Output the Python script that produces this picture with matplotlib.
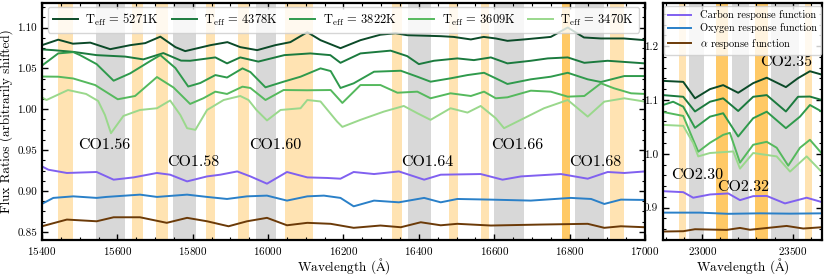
import numpy as np
import matplotlib
matplotlib.use("Agg")
import matplotlib.pyplot as plt
from matplotlib.ticker import MultipleLocator, FormatStrFormatter

plt.rcParams['font.family'] = 'serif'
plt.rcParams['font.serif'] = ['cmr10']
plt.rcParams['mathtext.fontset'] = 'cm'
plt.rcParams['axes.formatter.use_mathtext'] = True
plt.rcParams['axes.unicode_minus'] = False

# ---- H band (left panel) ----
wl_a = [15400, 15443, 15482, 15528, 15581, 15634, 15674, 15714, 15754, 15780, 15847, 15892,
        15926, 15971, 16019, 16059, 16104, 16139, 16192, 16245, 16298, 16338, 16369, 16458,
        16492, 16538, 16572, 16604, 16635, 16679, 16750, 16795, 16838, 16883, 16944, 17000]
t5271 = [1.0784, 1.0851, 1.0802, 1.0815, 1.0735, 1.0784, 1.0809, 1.0888, 1.0760, 1.0711, 1.0784, 1.0821,
         1.0760, 1.0723, 1.0784, 1.0821, 1.0943, 1.0845, 1.0747, 1.0845, 1.0912, 1.0930, 1.0906, 1.0894,
         1.0885, 1.0854, 1.0885, 1.0866, 1.0837, 1.0854, 1.0885, 1.1000, 1.0878, 1.0866, 1.0866, 1.0845]

wl_b = [15400, 15430, 15483, 15545, 15621, 15669, 15722, 15769, 15793, 15860, 15891, 15926,
        15974, 16043, 16112, 16165, 16192, 16245, 16325, 16369, 16400, 16440, 16502, 16546,
        16591, 16635, 16697, 16742, 16795, 16839, 16901, 17000]
t4378 = [1.0732, 1.0723, 1.0702, 1.0662, 1.0644, 1.0610, 1.0687, 1.0595, 1.0593, 1.0634, 1.0561, 1.0634,
         1.0583, 1.0662, 1.0683, 1.0662, 1.0568, 1.0683, 1.0717, 1.0650, 1.0552, 1.0593, 1.0622, 1.0601,
         1.0634, 1.0561, 1.0593, 1.0622, 1.0634, 1.0568, 1.0593, 1.0561]

wl_c = [15400, 15443, 15483, 15501, 15545, 15590, 15634, 15687, 15714, 15754, 15788, 15820, 15860,
        15891, 15932, 15953, 15993, 16041, 16086, 16139, 16166, 16192, 16227, 16281, 16352, 16396,
        16431, 16484, 16529, 16573, 16604, 16635, 16697, 16750, 16795, 16848, 16883, 16945, 17000]
t3822 = [1.0534, 1.0683, 1.0699, 1.0662, 1.0552, 1.0349, 1.0439, 1.0589, 1.0662, 1.0504, 1.0278, 1.0321, 1.0418,
         1.0388, 1.0500, 1.0455, 1.0268, 1.0337, 1.0398, 1.0500, 1.0467, 1.0260, 1.0317, 1.0459, 1.0471, 1.0398,
         1.0337, 1.0378, 1.0418, 1.0446, 1.0378, 1.0309, 1.0366, 1.0398, 1.0446, 1.0366, 1.0333, 1.0406, 1.0406]

wl_d = [15400, 15443, 15483, 15541, 15601, 15647, 15705, 15749, 15793, 15828, 15860, 15891, 15932,
        15953, 15993, 16041, 16104, 16166, 16197, 16245, 16298, 16343, 16396, 16431, 16484, 16538,
        16573, 16604, 16635, 16697, 16750, 16795, 16839, 16883, 16918, 16963, 17000]
t3609 = [1.0400, 1.0398, 1.0376, 1.0296, 1.0122, 1.0162, 1.0394, 1.0266, 1.0065, 1.0134, 1.0215, 1.0187, 1.0276,
         1.0260, 1.0113, 1.0235, 1.0232, 1.0235, 1.0077, 1.0296, 1.0296, 1.0202, 1.0215, 1.0134, 1.0195, 1.0162,
         1.0215, 1.0134, 1.0146, 1.0227, 1.0215, 1.0154, 1.0162, 1.0317, 1.0256, 1.0195, 1.0187]

wl_e = [15400, 15412, 15469, 15517, 15549, 15567, 15583, 15616, 15660, 15705, 15740, 15767, 15785,
        15807, 15838, 15882, 15926, 15948, 15969, 15997, 16033, 16086, 16104, 16139, 16183, 16197,
        16245, 16307, 16360, 16396, 16431, 16484, 16529, 16564, 16604, 16626, 16679, 16732, 16795,
        16848, 16892, 16945, 17000]
t3470 = [1.0144, 1.0113, 1.0235, 1.0187, 1.0101, 0.9930, 0.9707, 0.9918, 0.9991, 1.0012, 1.0107, 0.9930, 0.9768,
         0.9748, 0.9991, 1.0113, 1.0162, 1.0113, 0.9991, 0.9863, 0.9991, 1.0012, 1.0113, 1.0095, 0.9849, 0.9784,
         0.9870, 0.9971, 1.0040, 0.9951, 0.9870, 1.0012, 0.9959, 1.0040, 0.9890, 0.9768, 0.9890, 1.0012, 1.0113,
         0.9910, 1.0093, 1.0134, 1.0093]

wl_carbon = [15400, 15417, 15466, 15545, 15590, 15643, 15705, 15740, 15785, 15838, 15873, 15918, 15953,
             15997, 16050, 16104, 16157, 16192, 16227, 16281, 16347, 16414, 16458, 16564, 16622, 16671,
             16777, 16848, 16901, 16945, 17000]
carbon = [0.9300, 0.9260, 0.9220, 0.9232, 0.9138, 0.9166, 0.9220, 0.9199, 0.9117, 0.9178, 0.9199, 0.9239, 0.9178,
          0.9089, 0.9232, 0.9166, 0.9159, 0.9150, 0.9232, 0.9207, 0.9239, 0.9138, 0.9199, 0.9207, 0.9138, 0.9178,
          0.9207, 0.9150, 0.9232, 0.9220, 0.9239]

wl_oxygen = [15400, 15430, 15483, 15545, 15571, 15660, 15705, 15785, 15838, 15891, 15944, 15997, 16050,
             16104, 16148, 16192, 16227, 16281, 16347, 16414, 16458, 16502, 16591, 16697, 16803, 16857,
             16892, 16936, 17000]
oxygen = [0.8842, 0.8915, 0.8934, 0.8915, 0.8927, 0.8955, 0.8927, 0.8955, 0.8927, 0.8902, 0.8934, 0.8943, 0.8882,
          0.8934, 0.8943, 0.8915, 0.8812, 0.8882, 0.8861, 0.8915, 0.8861, 0.8902, 0.8894, 0.8882, 0.8915, 0.8902,
          0.8841, 0.8894, 0.8890]

wl_alpha = [15400, 15466, 15545, 15590, 15660, 15731, 15785, 15838, 15895, 15944, 15997, 16050, 16104,
            16166, 16227, 16298, 16352, 16405, 16458, 16502, 16591, 16724, 16848, 16892, 16936, 17000]
alpha_resp = [0.8568, 0.8650, 0.8629, 0.8678, 0.8678, 0.8610, 0.8671, 0.8629, 0.8568, 0.8629, 0.8671, 0.8580, 0.8610,
              0.8598, 0.8549, 0.8577, 0.8556, 0.8617, 0.8580, 0.8598, 0.8577, 0.8589, 0.8598, 0.8549, 0.8568, 0.8556]

# ---- K band (right panel) ----
wl_k = [22783, 22895, 22960, 23043, 23116, 23199, 23282, 23357, 23463, 23530, 23596, 23663]
k5271 = [1.1354, 1.1336, 1.1030, 1.1201, 1.1275, 1.1133, 1.1312, 1.1413, 1.1238, 1.1404, 1.1533, 1.1469]
k4378 = [1.1090, 1.1059, 1.0786, 1.0967, 1.1030, 1.0795, 1.1059, 1.1090, 1.0786, 1.1059, 1.1063, 1.0998]
wl_k2 = [22783, 22839, 22895, 22960, 23043, 23116, 23199, 23282, 23357, 23463, 23541, 23596, 23663]
k3822 = [1.0906, 1.0967, 1.0875, 1.0482, 1.0690, 1.0753, 1.0321, 1.0661, 1.0782, 1.0476, 1.0690, 1.0906, 1.0782]
wl_k3 = [22783, 22895, 22950, 22978, 23043, 23116, 23153, 23209, 23282, 23357, 23412, 23476, 23541, 23596, 23663]
k3609 = [1.0777, 1.0703, 1.0260, 1.0039, 1.0205, 1.0352, 1.0389, 0.9836, 1.0168, 1.0223, 1.0113, 0.9780, 1.0113,
         1.0260, 1.0002]
wl_k4 = [22783, 22895, 22950, 22978, 23043, 23172, 23209, 23282, 23412, 23486, 23578, 23663]
k3470 = [1.0537, 1.0519, 1.0199, 0.9952, 1.0015, 1.0044, 0.9725, 1.0015, 0.9952, 0.9670, 0.9952, 0.9657]

wl_kc = [22783, 22895, 22950, 23043, 23144, 23209, 23282, 23357, 23458, 23578, 23663]
k_carbon = [0.9306, 0.9288, 0.9185, 0.9245, 0.9264, 0.9140, 0.9214, 0.9218, 0.9079, 0.9185, 0.9103]
wl_ko = [22783, 22987, 23144, 23319, 23486, 23663]
k_oxygen = [0.8908, 0.8908, 0.8886, 0.8895, 0.8889, 0.8895]
wl_ka = [22783, 22895, 22960, 23135, 23209, 23264, 23467, 23559, 23663]
k_alpha = [0.8557, 0.8563, 0.8600, 0.8587, 0.8624, 0.8590, 0.8661, 0.8613, 0.8637]

teff = [5271, 4378, 3822, 3609, 3470]
greens = ['#0b4a28', '#1b7a3e', '#2f9a4c', '#55b95d', '#9ad88c']

# spectral windows
h_orange = [(15443, 15483), (15639, 15669), (15703, 15734), (15834, 15860), (15919, 15950),
            (16044, 16119), (16330, 16355), (16480, 16505), (16564, 16585), (16906, 16945)]
h_orange_dark = [(16780, 16800)]
h_gray = [(15543, 15619), (15748, 15809), (15969, 16020), (16371, 16433), (16600, 16679), (16815, 16890)]
k_orange = [(22871, 22908), (23570, 23607)]
k_orange_dark = [(23078, 23144), (23292, 23364)]
k_gray = [(22926, 23009), (23166, 23259), (23380, 23535)]

h_labels = ['CO1.56', 'CO1.58', 'CO1.60', 'CO1.64', 'CO1.66', 'CO1.68']
h_label_x = [15566, 15800, 16018, 16421, 16660, 16869]
h_label_y = [0.9565, 0.9357, 0.9565, 0.9357, 0.9565, 0.9357]
k_labels = ['CO2.30', 'CO2.32', 'CO2.35']
k_label_x = [22974, 23226, 23464]
k_label_y = [0.9596, 0.9375, 1.170]

fig = plt.figure(figsize=(8.3, 2.77), dpi=100)
ax1 = fig.add_axes([0.0506, 0.1336, 0.7265, 0.8556])
ax2 = fig.add_axes([0.7988, 0.1336, 0.1916, 0.8556])


def shade(ax, light, dark, gray):
    for a, b in light:
        ax.axvspan(a, b, color='orange', alpha=0.3, lw=0, zorder=0)
    for a, b in dark:
        ax.axvspan(a, b, color='orange', alpha=0.6, lw=0, zorder=0)
    for a, b in gray:
        ax.axvspan(a, b, color='gray', alpha=0.3, lw=0, zorder=0)


shade(ax1, h_orange, h_orange_dark, h_gray)
shade(ax2, k_orange, k_orange_dark, k_gray)

h_sets = [(wl_a, t5271), (wl_b, t4378), (wl_c, t3822), (wl_d, t3609), (wl_e, t3470)]
for (x, y), T, c in zip(h_sets, teff, greens):
    ax1.plot(x, y, color=c, lw=1.4, label=r'$\mathrm{T_{eff}}$ = %dK' % T)
ax1.plot(wl_carbon, carbon, color='#8060f0', lw=1.4)
ax1.plot(wl_oxygen, oxygen, color='#2a80c8', lw=1.4)
ax1.plot(wl_alpha, alpha_resp, color='#6b3a08', lw=1.4)

k_sets = [(wl_k, k5271), (wl_k, k4378), (wl_k2, k3822), (wl_k3, k3609), (wl_k4, k3470)]
for (x, y), c in zip(k_sets, greens):
    ax2.plot(x, y, color=c, lw=1.4)
ax2.plot(wl_kc, k_carbon, color='#8060f0', lw=1.4, label='Carbon response function')
ax2.plot(wl_ko, k_oxygen, color='#2a80c8', lw=1.4, label='Oxygen response function')
ax2.plot(wl_ka, k_alpha, color='#6b3a08', lw=1.4, label=r'$\alpha$ response function')

for name, x, y in zip(h_labels, h_label_x, h_label_y):
    ax1.text(x, y, name, fontsize=11.5, ha='center', va='center')
for name, x, y in zip(k_labels, k_label_x, k_label_y):
    ax2.text(x, y, name, fontsize=11.5, ha='center', va='center')

ax1.set_xlim(15400, 17000)
ax1.set_ylim(0.84, 1.13)
ax2.set_xlim(22783, 23663)
ax2.set_ylim(0.84, 1.28)

ax1.xaxis.set_major_locator(MultipleLocator(200))
ax1.xaxis.set_minor_locator(MultipleLocator(50))
ax1.yaxis.set_major_locator(MultipleLocator(0.05))
ax1.yaxis.set_minor_locator(MultipleLocator(0.0125))
ax2.xaxis.set_major_locator(MultipleLocator(500))
ax2.xaxis.set_minor_locator(MultipleLocator(100))
ax2.yaxis.set_major_locator(MultipleLocator(0.1))
ax2.yaxis.set_minor_locator(MultipleLocator(0.02))

for ax in (ax1, ax2):
    ax.tick_params(which='both', direction='in', top=True, right=True, labelsize=8)
    ax.tick_params(which='major', length=4, width=1)
    ax.tick_params(which='minor', length=2, width=0.8)
    for s in ax.spines.values():
        s.set_linewidth(1.6)
    ax.set_xlabel(r'Wavelength ($\mathrm{\AA}$)', fontsize=9.5, labelpad=-0.5)

ax1.yaxis.set_major_formatter(FormatStrFormatter('%.2f'))
ax2.yaxis.set_major_formatter(FormatStrFormatter('%.1f'))
ax1.set_ylabel('Flux Ratios (arbitrarily shifted)', fontsize=9.5, labelpad=3)

ax1.legend(loc='upper center', ncol=5, fontsize=9, handlelength=2.0, handletextpad=0.6,
           columnspacing=1.0, borderaxespad=0.3, bbox_to_anchor=(0.5, 1.0))
ax2.legend(loc='upper center', fontsize=7.5, handlelength=2.2, borderaxespad=0.3,
           labelspacing=0.3, bbox_to_anchor=(0.5, 1.0))

fig.savefig('out.png', dpi=100)
